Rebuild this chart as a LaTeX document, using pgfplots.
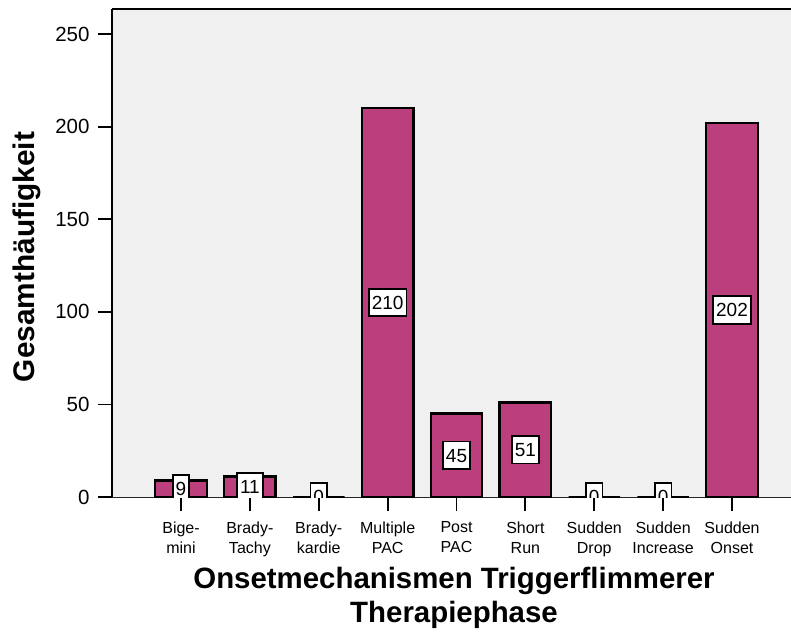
\documentclass[border=0pt]{standalone}
\usepackage{fontspec}
\setmainfont{Liberation Sans}
\usepackage{pgfplots}
\pgfplotsset{compat=1.18}
\usepackage{pgfplotstable}
\definecolor{barc}{RGB}{187,63,124}
\definecolor{bgc}{RGB}{240,240,240}

\pgfplotstableread{
x n
0 9
1 11
2 0
3 210
4 45
5 51
6 0
7 0
8 202
}\datatable

\pgfplotsset{
  common/.style={
    at={(0pt,0pt)}, anchor=south west,
    scale only axis, width=684pt, height=488pt,
    xmin=-1.002, xmax=8.929, ymin=0, ymax=263.5,
    /pgf/number format/assume math mode=true,
  }
}

\begin{document}
\begin{tikzpicture}
\begin{axis}[
  common,
  clip=false,
  axis background/.style={fill=bgc},
  axis x line*=bottom, axis y line*=left,
  x axis line style={line width=0.9pt, black!85},
  y axis line style={line width=1.6pt, black},
  xtick={0,...,8},
  xticklabels={{Bige-\\mini},{Brady-\\Tachy},{Brady-\\kardie},{Multiple\\PAC},{Post\\PAC},{Short\\Run},{Sudden\\Drop},{Sudden\\Increase},{Sudden\\Onset}},
  xticklabel style={align=center, font=\fontsize{16}{20}\selectfont, yshift=-7pt},
  yticklabel style={font=\fontsize{20.5}{24}\selectfont, xshift=-5pt},
  ytick={0,50,...,250},
  tick align=outside,
  major tick length=14pt,
  tick style={line width=1.8pt, black},
  xlabel={Onsetmechanismen Triggerflimmerer\\Therapiephase},
  every axis x label/.style={at={(rel axis cs:0.5,0)}, anchor=north, inner sep=0pt, yshift=-70pt, align=center, font=\bfseries\fontsize{29.4}{34}\selectfont},
  ylabel={Gesamthäufigkeit},
  every axis y label/.style={at={(rel axis cs:-0.1447,0.4918)}, rotate=90, anchor=north, inner sep=0pt, font=\bfseries\fontsize{29.8}{34}\selectfont},
]
\addplot[ybar, bar width=51.5pt, fill=barc, draw=black, line width=2.4pt] table[x=x, y=n] {\datatable};
\draw[line width=1.6pt, black] (rel axis cs:0,1) -- (rel axis cs:1,1);
\end{axis}
\begin{axis}[
  common,
  hide axis,
  clip=true,
  clip marker paths=true,
]
\addplot[draw=none, mark=none, nodes near coords, point meta=explicit,
  nodes near coords style={fill=white, draw=black, line width=1.8pt, inner xsep=3pt, inner ysep=7pt, text height=13.6pt, text depth=0pt, anchor=center, font=\fontsize{19}{19}\selectfont}]
  table[x=x, y expr=\thisrow{n}/2, meta=n] {\datatable};
\end{axis}
\pgfresetboundingbox
\useasboundingbox (-112pt,-135pt) rectangle (679pt,497pt);
\end{tikzpicture}
\end{document}
